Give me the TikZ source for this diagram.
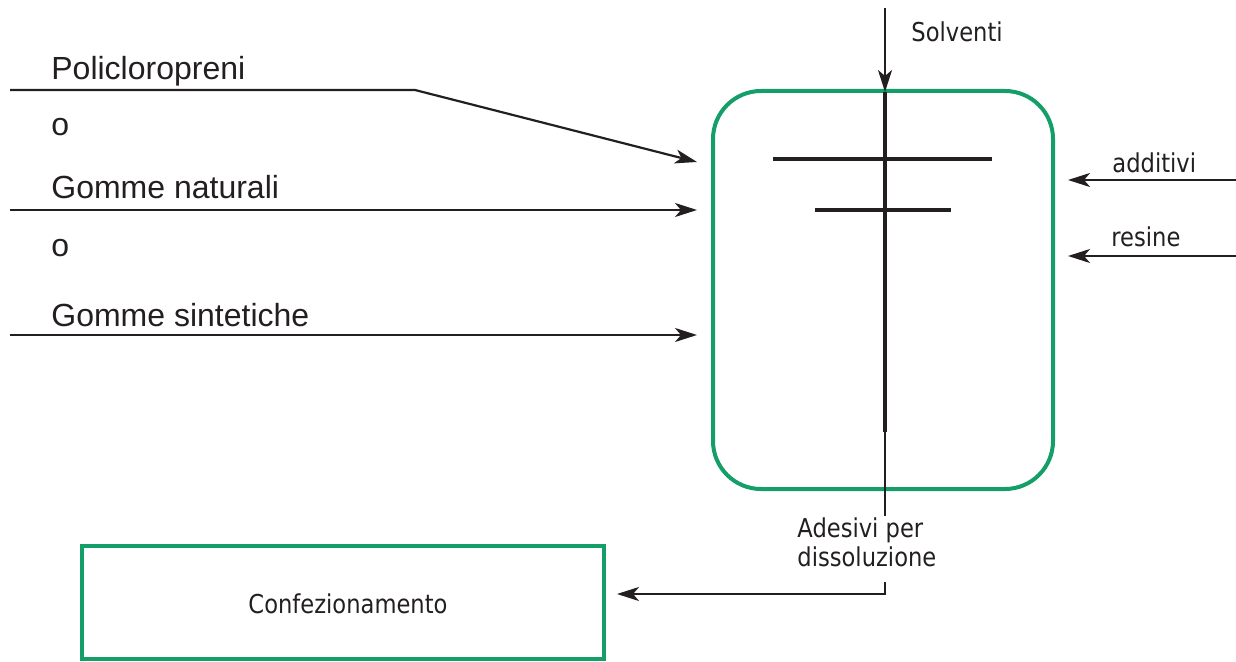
\documentclass[tikz,border=0pt]{standalone}
\usepackage{fontspec}
\setmainfont{Liberation Sans}
\newfontfamily\labelfont[FakeStretch=0.87]{DejaVu Sans}
\usetikzlibrary{arrows.meta}
\definecolor{vgreen}{RGB}{20,158,104}
\definecolor{ink}{RGB}{35,31,32}
\tikzset{
  flow/.style={draw=ink, line width=1.1pt, -{Stealth[length=11pt,width=7pt,inset=3pt]}},
  plain/.style={draw=ink, line width=1.1pt},
  shaft/.style={draw=ink, line width=2pt},
  greenbox/.style={draw=vgreen, line width=2pt, inner sep=0pt},
  bigtext/.style={font=\fontsize{16}{18}\selectfont, text=ink, inner sep=0pt, anchor=base west},
  smalltext/.style={font=\labelfont\fontsize{13}{14.5}\selectfont, text=ink, inner sep=0pt},
}
\begin{document}
\begin{tikzpicture}[x=0.5pt,y=-0.5pt]
\useasboundingbox (0,0) rectangle (1236,662);

% vessel and packaging unit
\node[greenbox, rounded corners=24pt, minimum width=170pt, minimum height=199pt] (mixer) at (883,290) {};
\node[greenbox, minimum width=261pt, minimum height=56.5pt] (conf) at (343,602.5) {};
\node[smalltext] (conftext) at (348,604) {Confezionamento};

% raw material labels
\node[bigtext] (poli) at (51,80) {Policloropreni};
\node[bigtext] (or1) at (51,136) {o};
\node[bigtext] (nat) at (51,199) {Gomme naturali};
\node[bigtext] (or2) at (51,257) {o};
\node[bigtext] (sint) at (51,327) {Gomme sintetiche};

\node[smalltext, anchor=base west] (solv) at (911,42) {Solventi};
\node[smalltext, anchor=base west] (addi) at (1112,173) {additivi};
\node[smalltext, anchor=base west] (resi) at (1111,247) {resine};
\node[smalltext, align=left, anchor=north west] (prod) at (797,517) {Adesivi per\\dissoluzione};

% connector end points
\coordinate (poliA) at (10,90);
\coordinate (poliB) at (415,90);
\coordinate (poliC) at (697,162);
\coordinate (natA) at (10,210);
\coordinate (natB) at (697,210);
\coordinate (sintA) at (10,335);
\coordinate (sintB) at (697,335);
\coordinate (solvA) at (885,8);
\coordinate (solvB) at (885,92);
\coordinate (shaftB) at (885,432);
\coordinate (outA) at (885,516);
\coordinate (outB) at (885,582);
\coordinate (outC) at (885,594);
\coordinate (outD) at (617,594);
\coordinate (addiA) at (1236,180);
\coordinate (addiB) at (1068,180);
\coordinate (resiA) at (1236,256);
\coordinate (resiB) at (1068,256);

% feed lines
\draw[flow] (poliA) -- (poliB) -- (poliC);
\draw[flow] (natA) -- (natB);
\draw[flow] (sintA) -- (sintB);
\draw[flow] (solvA) -- (solvB);
\draw[flow] (addiA) -- (addiB);
\draw[flow] (resiA) -- (resiB);

% stirrer shaft with blades
\draw[shaft] (solvB) -- (shaftB);
\draw[shaft] (773,159) -- (992,159);
\draw[shaft] (815,210) -- (951,210);

% product outlet
\draw[plain] (shaftB) -- (outA);
\draw[flow] (outB) -- (outC) -- (outD);
\end{tikzpicture}
\end{document}
